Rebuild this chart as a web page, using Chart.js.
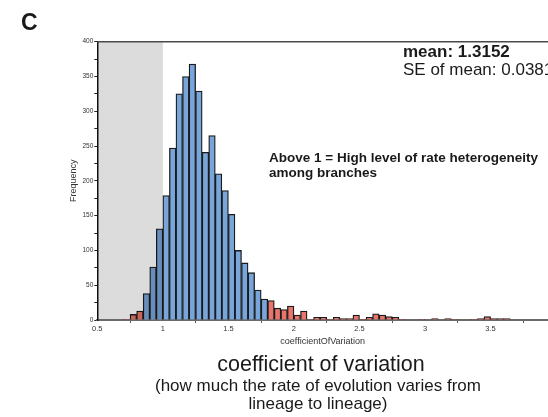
<!DOCTYPE html>
<html><head><meta charset="utf-8">
<script src="https://cdn.jsdelivr.net/npm/chart.js@4.4.1/dist/chart.umd.min.js"></script>
<style>
html,body{margin:0;padding:0;background:#fff;overflow:hidden}
#wrap{position:relative;width:548px;height:417px;overflow:hidden;font-family:"Liberation Sans",Arial,sans-serif;color:#1a1a1a}
canvas{position:absolute;left:0;top:0}
.t{position:absolute;white-space:nowrap}
</style></head><body>
<div id="wrap">
<canvas id="c" width="548" height="417"></canvas>
<div class="t" style="left:21px;top:11px;font-size:23px;line-height:23px;font-weight:bold">C</div>
<div class="t" style="left:403px;top:42.8px;font-size:17px;line-height:17px;font-weight:bold">mean: 1.3152</div>
<div class="t" style="left:403px;top:60.8px;font-size:17px;line-height:17px">SE of mean: 0.0381</div>
<div class="t" style="left:269px;top:149.5px;font-size:13.5px;line-height:15px;font-weight:bold">Above 1 = High level of rate heterogeneity<br>among branches</div>
<div class="t" style="left:120px;width:402px;text-align:center;top:354px;font-size:21.5px;line-height:21.5px">coefficient of variation</div>
<div class="t" style="left:118px;width:400px;text-align:center;top:377px;font-size:17px;line-height:17.5px">(how much the rate of evolution varies from<br>lineage to lineage)</div>
</div>
<script>
// histogram bins: start of first bin and bin width
const binStart = 0.70;
const binWidth = 0.05;
// frequency per bin, starting at 0.70
const counts = [1,8,13,38,76,131,179,247,325,350,368,329,241,265,210,186,152,100,82,68,43,30,
  28,17,15,20,7,13,1,4,4,1,4,2,2,7,1,4,9,7,5,4,1,0,0,1,0,2,0,2,1,0,0,1,2,5,2,2,2];
// tails (coloured red) and shaded region
const lowTailBelow = 0.85;
const highTailFrom = 1.80;
const shadeRange = [0.5, 1.0];
const xRange = [0.5, 3.938];
const yRange = [0, 400];

const RED = '#e8756b', BLUE = '#78a5da';
Chart.defaults.font.family = '"Liberation Sans", Arial, sans-serif';

const shade = {
  id: 'shade',
  afterDatasetsDraw(chart) {
    const {ctx, chartArea: a, scales: {x}} = chart;
    const x0 = x.getPixelForValue(shadeRange[0]), x1 = x.getPixelForValue(shadeRange[1]);
    ctx.save();
    ctx.globalCompositeOperation = 'multiply';
    ctx.fillStyle = '#dcdcdc';
    ctx.fillRect(x0, a.top, x1 - x0, a.bottom - a.top - 1);
    ctx.restore();
    ctx.save();
    ctx.strokeStyle = '#4a4a4a';
    ctx.lineWidth = 1.6;
    ctx.beginPath();
    ctx.moveTo(a.left, a.top);
    ctx.lineTo(a.right, a.top);
    ctx.stroke();
    ctx.restore();
  }
};

new Chart(document.getElementById('c'), {
  type: 'bar',
  data: {
    datasets: [{
      data: counts.map((v, i) => ({x: binStart + (i + 0.5) * binWidth, y: v})),
      backgroundColor: c => {
        const s = binStart + c.dataIndex * binWidth;
        return (s < lowTailBelow - 1e-9 || s >= highTailFrom - 1e-9) ? RED : BLUE;
      },
      borderColor: '#1b1b1b',
      borderWidth: 1.3,
      categoryPercentage: 1,
      barPercentage: 1
    }]
  },
  options: {
    responsive: false,
    animation: false,
    devicePixelRatio: 1,
    layout: {padding: {left: 68, right: 0, top: 41.7, bottom: 70}},
    plugins: {legend: {display: false}, tooltip: {enabled: false}},
    scales: {
      x: {
        type: 'linear', min: xRange[0], max: xRange[1], offset: false,
        ticks: {stepSize: 0.5, includeBounds: false, font: {size: 7.5}, color: '#333', padding: 1, maxRotation: 0,
                callback: v => String(Math.round(v * 100) / 100)},
        grid: {drawOnChartArea: false, tickLength: 3, color: '#555'},
        border: {color: '#6a6a6a', width: 2},
        title: {display: true, text: 'coefficientOfVariation', font: {size: 9}, color: '#333', padding: 0},
        afterFit: s => { s.height = 27; }
      },
      y: {
        min: yRange[0], max: yRange[1],
        ticks: {stepSize: 25, callback: v => (v % 50 === 0 ? v : ''), font: {size: 6.5}, color: '#333', padding: 1},
        grid: {drawOnChartArea: false, tickLength: 3, color: '#222'},
        border: {color: '#111', width: 1.5},
        title: {display: true, text: 'Frequency', font: {size: 9}, color: '#333', padding: 0},
        afterFit: s => { s.width = 29.3; }
      }
    }
  },
  plugins: [shade]
});
</script>
</body></html>
